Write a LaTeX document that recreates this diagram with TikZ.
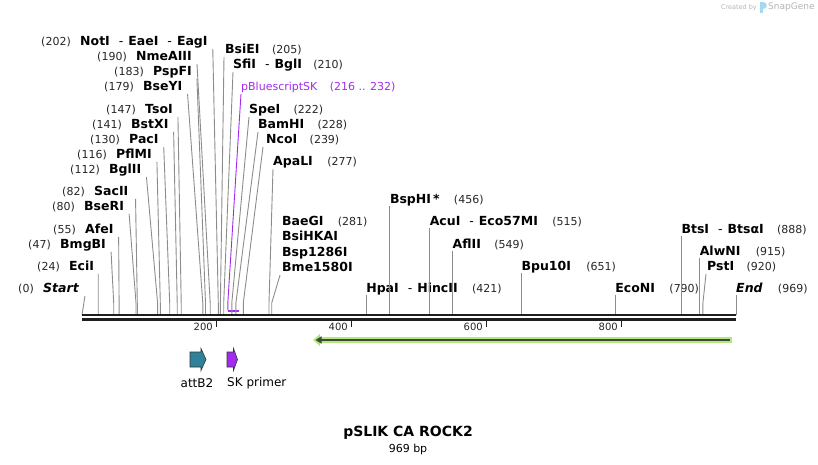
\documentclass[tikz,border=0pt]{standalone}
\usepackage{fontspec}
\setmainfont{DejaVu Sans}
\usetikzlibrary{positioning,arrows.meta}

\definecolor{cutgray}{HTML}{8C8C8C}
\definecolor{primer}{HTML}{A22BEF}
\definecolor{attteal}{HTML}{2F8299}
\definecolor{orfgreen}{HTML}{B6E880}
\definecolor{orfdark}{HTML}{3C4A3A}
\definecolor{logogray}{HTML}{B4B4B4}
\definecolor{logoblue}{HTML}{A6D8F2}

\newcommand{\enzsep}{\hspace{9pt}{\mdseries -}\hspace{5pt}}

\tikzset{
  enz/.style={font=\fontsize{12.5}{14}\selectfont\bfseries, inner sep=0pt, text height=9pt, text depth=2.5pt, anchor=west},
  enzit/.style={enz, font=\fontsize{12.5}{14}\selectfont\bfseries\itshape},
  num/.style={font=\fontsize{11}{13}\selectfont, inner sep=0pt, text height=9pt, text depth=2.5pt, text=black!85},
  cut/.style={cutgray, line width=0.9pt},
  feat/.style={draw=black!80, line width=0.6pt},
  ticklbl/.style={font=\fontsize{10}{12}\selectfont, inner sep=0pt, text=black!85},
}

\begin{document}
\begin{tikzpicture}[x=1pt,y=-1pt]
        \useasboundingbox (0,0) rectangle (818,464);

        \coordinate (bend) at (0,303);
        \coordinate (s0) at (82,315);     \coordinate (s24) at (98.2,315);   \coordinate (s47) at (113.7,315);
        \coordinate (s55) at (119.1,315); \coordinate (s80) at (136.0,315);  \coordinate (s82) at (137.3,315);
        \coordinate (s112) at (157.6,315);\coordinate (s116) at (160.3,315); \coordinate (s130) at (169.7,315);
        \coordinate (s141) at (177.2,315);\coordinate (s147) at (181.2,315); \coordinate (s179) at (202.8,315);
        \coordinate (s183) at (205.5,315);\coordinate (s190) at (210.2,315); \coordinate (s202) at (218.3,315);
        \coordinate (s205) at (220.4,315);\coordinate (s210) at (223.7,315); \coordinate (s216) at (227.8,311);
        \coordinate (s232) at (238.6,311);\coordinate (s222) at (231.8,315); \coordinate (s228) at (235.9,315);
        \coordinate (s239) at (243.3,315);\coordinate (s277) at (269.0,315); \coordinate (s281) at (271.7,315);
        \coordinate (s421) at (366.1,315);\coordinate (s456) at (389.8,315); \coordinate (s515) at (429.6,315);
        \coordinate (s549) at (452.5,315);\coordinate (s651) at (521.4,315); \coordinate (s790) at (615.2,315);
        \coordinate (s888) at (681.3,315);\coordinate (s915) at (699.6,315); \coordinate (s920) at (702.9,315);
        \coordinate (s969) at (736,315);

        \node[enz] (noti) at (80,42) {NotI\enzsep EaeI\enzsep EagI};
        \node[num, left=9pt of noti] {(202)};
        \node[enz] (nmeaiii) at (136,57) {NmeAIII};
        \node[num, left=9pt of nmeaiii] {(190)};
        \node[enz] (pspfi) at (153,72) {PspFI};
        \node[num, left=9pt of pspfi] {(183)};
        \node[enz] (bseyi) at (143,87) {BseYI};
        \node[num, left=9pt of bseyi] {(179)};
        \node[enz] (tsoi) at (145,110) {TsoI};
        \node[num, left=9pt of tsoi] {(147)};
        \node[enz] (bstxi) at (131,125) {BstXI};
        \node[num, left=9pt of bstxi] {(141)};
        \node[enz] (paci) at (129,140) {PacI};
        \node[num, left=9pt of paci] {(130)};
        \node[enz] (pflmi) at (116,155) {PflMI};
        \node[num, left=9pt of pflmi] {(116)};
        \node[enz] (bglii) at (109,170) {BglII};
        \node[num, left=9pt of bglii] {(112)};
        \node[enz] (sacii) at (94,192) {SacII};
        \node[num, left=9pt of sacii] {(82)};
        \node[enz] (bseri) at (84,207) {BseRI};
        \node[num, left=9pt of bseri] {(80)};
        \node[enz] (afei) at (85,230) {AfeI};
        \node[num, left=9pt of afei] {(55)};
        \node[enz] (bmgbi) at (60,245) {BmgBI};
        \node[num, left=9pt of bmgbi] {(47)};
        \node[enz] (ecii) at (69,267) {EciI};
        \node[num, left=9pt of ecii] {(24)};
        \node[enzit] (start) at (43,289) {Start};
        \node[num, left=9pt of start] {(0)};

        \draw[cut] ([shift={(5pt,-1pt)}]noti.south east) -- (s202 |- bend) -- (s202);
        \draw[cut] ([shift={(5pt,-1pt)}]nmeaiii.south east) -- (s190 |- bend) -- (s190);
        \draw[cut] ([shift={(5pt,-1pt)}]pspfi.south east) -- (s183 |- bend) -- (s183);
        \draw[cut] ([shift={(5pt,-1pt)}]bseyi.south east) -- (s179 |- bend) -- (s179);
        \draw[cut] ([shift={(5pt,-1pt)}]tsoi.south east) -- (s147 |- bend) -- (s147);
        \draw[cut] ([shift={(5pt,-1pt)}]bstxi.south east) -- (s141 |- bend) -- (s141);
        \draw[cut] ([shift={(5pt,-1pt)}]paci.south east) -- (s130 |- bend) -- (s130);
        \draw[cut] ([shift={(5pt,-1pt)}]pflmi.south east) -- (s116 |- bend) -- (s116);
        \draw[cut] ([shift={(5pt,-1pt)}]bglii.south east) -- (s112 |- bend) -- (s112);
        \draw[cut] ([shift={(7pt,-1pt)}]sacii.south east) -- (s82 |- bend) -- (s82);
        \draw[cut] ([shift={(5pt,-1pt)}]bseri.south east) -- (s80 |- bend) -- (s80);
        \draw[cut] ([shift={(5pt,-1pt)}]afei.south east) -- (s55 |- bend) -- (s55);
        \draw[cut] ([shift={(5pt,-1pt)}]bmgbi.south east) -- (s47 |- bend) -- (s47);
        \draw[cut] ([shift={(4pt,-1pt)}]ecii.south east) -- (s24 |- bend) -- (s24);
        \draw[cut] ([shift={(6pt,-1pt)}]start.south east) -- (s0);

        \node[enz] (bsiei) at (225,50) {BsiEI};
        \node[num, right=12pt of bsiei] {(205)};
        \node[enz] (sfii) at (233,65) {SfiI\enzsep BglI};
        \node[num, right=11pt of sfii] {(210)};
        \node[num, anchor=west, text=primer] (pbs) at (241,87) {pBluescriptSK};
        \node[num, right=12pt of pbs, text=primer] {(216 .. 232)};
        \node[enz] (spei) at (249,110) {SpeI};
        \node[num, right=13pt of spei] {(222)};
        \node[enz] (bamhi) at (258,125) {BamHI};
        \node[num, right=13pt of bamhi] {(228)};
        \node[enz] (ncoi) at (266,140) {NcoI};
        \node[num, right=12pt of ncoi] {(239)};
        \node[enz] (apali) at (273,162) {ApaLI};
        \node[num, right=14pt of apali] {(277)};
        \node[enz] (baegi) at (282,222) {BaeGI};
        \node[num, right=14pt of baegi] {(281)};
        \node[enz, below=3.5pt of baegi.south west, anchor=north west] (bsihkai) {BsiHKAI};
        \node[enz, below=3.5pt of bsihkai.south west, anchor=north west] (bsp1286i) {Bsp1286I};
        \node[enz, below=3.5pt of bsp1286i.south west, anchor=north west] (bme1580i) {Bme1580I};

        \draw[cut] ([shift={(-1pt,-1pt)}]bsiei.south west) -- (s205 |- bend) -- (s205);
        \draw[cut] ([yshift=-1pt]sfii.south west) -- (s210 |- bend) -- (s210);
        \draw[primer, line width=0.9pt] ([yshift=-1pt]pbs.south west) -- (s216 |- bend) -- ([yshift=1pt]s216);
        \draw[primer, line width=2pt] (s216) -- (s232);
        \draw[cut] ([yshift=-1pt]spei.south west) -- (s222 |- bend) -- (s222);
        \draw[cut] ([yshift=-1pt]bamhi.south west) -- (s228 |- bend) -- (s228);
        \draw[cut] ([shift={(-3pt,-1pt)}]ncoi.south west) -- (s239 |- bend) -- (s239);
        \draw[cut] ([yshift=-1pt]apali.south west) -- (s277 |- bend) -- (s277);
        \draw[cut] ([shift={(-2pt,-1pt)}]bme1580i.south west) -- (s281 |- bend) -- (s281);

        \node[enz] (bsphi) at (389.8,200) {BspHI\hspace{2pt}*};
        \node[num, right=14pt of bsphi] {(456)};
        \node[enz] (acui) at (429.6,222) {AcuI\enzsep Eco57MI};
        \node[num, right=14pt of acui] {(515)};
        \node[enz] (aflii) at (452.5,245) {AflII};
        \node[num, right=13pt of aflii] {(549)};
        \node[enz] (hpai) at (366.1,289) {HpaI\enzsep HincII};
        \node[num, right=14pt of hpai] {(421)};
        \node[enz] (bpu10i) at (521.4,267) {Bpu10I};
        \node[num, right=15pt of bpu10i] {(651)};
        \node[enz] (econi) at (615.2,289) {EcoNI};
        \node[num, right=14pt of econi] {(790)};
        \node[enz] (btsi) at (681.3,230) {BtsI\enzsep BtsαI};
        \node[num, right=13pt of btsi] {(888)};
        \node[enz] (alwni) at (699.6,252) {AlwNI};
        \node[num, right=15pt of alwni] {(915)};
        \node[enz] (psti) at (707,267) {PstI};
        \node[num, right=12pt of psti] {(920)};
        \node[enzit] (endlbl) at (736,289) {End};
        \node[num, right=15pt of endlbl] {(969)};

        \draw[cut] (bsphi.south west) -- (s456);
        \draw[cut] (acui.south west) -- (s515);
        \draw[cut] (aflii.south west) -- (s549);
        \draw[cut] (hpai.south west) -- (s421);
        \draw[cut] (bpu10i.south west) -- (s651);
        \draw[cut] (econi.south west) -- (s790);
        \draw[cut] (btsi.south west) -- (s888);
        \draw[cut] (alwni.south west) -- (s915);
        \draw[cut] ([shift={(-1pt,-1pt)}]psti.south west) -- (s920 |- bend) -- (s920);
        \draw[cut] (endlbl.south west) -- (s969);

        \draw[black!88, line width=2.3pt] (s0) -- (s969);
        \draw[black!88, line width=2.7pt] ([yshift=-4.7pt]s0) -- ([yshift=-4.7pt]s969);

        \coordinate (t200) at (216.5,321);
        \coordinate (t400) at (351.5,321);
        \coordinate (t600) at (486.5,321);
        \coordinate (t800) at (621.5,321);
        \draw[black!88, line width=1.5pt] (t200) -- ++(0,6) node[ticklbl, left=3pt] (l200) {200};
        \draw[black!88, line width=1.5pt] (t400) -- ++(0,6) node[ticklbl, left=3pt] (l400) {400};
        \draw[black!88, line width=1.5pt] (t600) -- ++(0,6) node[ticklbl, left=3pt] (l600) {600};
        \draw[black!88, line width=1.5pt] (t800) -- ++(0,6) node[ticklbl, left=3pt] (l800) {800};

        \coordinate (orfstart) at (732,340);
        \coordinate (orfend) at (313,340);
        \draw[orfgreen, line width=5.5pt, -{Triangle[length=7pt,width=12pt]}] (orfstart) -- (orfend);
        \draw[orfdark, line width=2pt, -{Triangle[length=6pt,width=7pt]}] ([xshift=-2pt]orfstart) -- ([xshift=2.5pt]orfend);

        \draw[feat, fill=attteal] (190,352) -- (201,352) -- (201,348.5) -- (206,359.5) -- (201,370.5) -- (201,367) -- (190,367) -- cycle;
        \draw[feat, fill=primer] (227,352) -- (233.5,352) -- (233.5,348.5) -- (237.5,359.5) -- (233.5,370.5) -- (233.5,367) -- (227,367) -- cycle;
        \node[font=\fontsize{12}{14}\selectfont, inner sep=0pt] (attb2) at (197,383) {attB2};
        \node[font=\fontsize{12}{14}\selectfont, inner sep=0pt, anchor=west] (skprimer) at (227,383) {SK primer};

        \node[font=\fontsize{14}{16}\selectfont\bfseries, inner sep=0pt] (title) at (408,433) {pSLIK CA ROCK2};
        \node[font=\fontsize{11}{13}\selectfont, inner sep=0pt, below=4pt of title] (size) {969 bp};

        \node[font=\fontsize{6.5}{8}\selectfont, text=logogray, inner sep=0pt, anchor=east] (created) at (757,7.5) {Created by};
        \fill[logoblue] (760,2) rectangle (762.5,13);
        \fill[logoblue] (762.5,2) .. controls (767.5,2) and (767.5,9) .. (762.5,9) -- cycle;
        \node[font=\fontsize{9}{11}\selectfont, text=logogray, inner sep=0pt, anchor=west] (snapgene) at (768,7.5) {SnapGene};
\end{tikzpicture}
\end{document}
